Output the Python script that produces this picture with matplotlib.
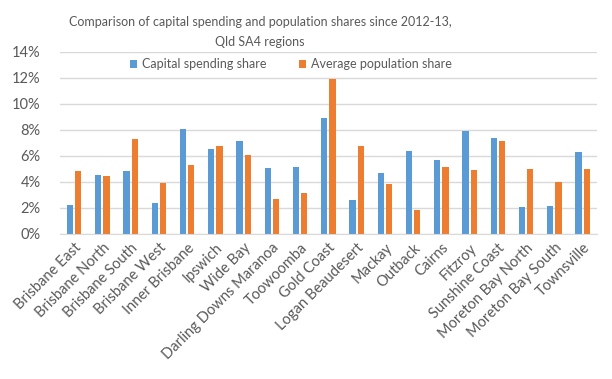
import numpy as np
import matplotlib
matplotlib.use("Agg")
import matplotlib.pyplot as plt
from matplotlib.ticker import FuncFormatter, MultipleLocator

# ── data (shares, %) ───────────────────────────────────────────────────────────
regions = [
    "Brisbane East", "Brisbane North", "Brisbane South", "Brisbane West",
    "Inner Brisbane", "Ipswich", "Wide Bay", "Darling Downs Maranoa",
    "Toowoomba", "Gold Coast", "Logan Beaudesert", "Mackay", "Outback",
    "Cairns", "Fitzroy", "Sunshine Coast", "Moreton Bay North",
    "Moreton Bay South", "Townsville",
]
capital_share = [2.2, 4.5, 4.8, 2.35, 8.05, 6.5, 7.1, 5.05, 5.1, 8.9,
                 2.6, 4.65, 6.35, 5.65, 7.9, 7.35, 2.05, 2.1, 6.3]
population_share = [4.8, 4.45, 7.3, 3.9, 5.3, 6.75, 6.05, 2.65, 3.1, 11.9,
                    6.75, 3.85, 1.85, 5.15, 4.9, 7.15, 5.0, 4.0, 5.0]

COLOR_CAPITAL = "#5B9BD5"
COLOR_POP     = "#ED7D31"
TEXT_COLOR    = "#595959"
GRID_COLOR    = "#D9D9D9"

plt.rcParams["font.family"] = ["Lato", "DejaVu Sans"]

fig = plt.figure(figsize=(6.12, 3.79), dpi=100)
ax = fig.add_axes([0.098, 0.383, 0.877, 0.481])

x = np.arange(len(regions))
w = 0.22
ax.bar(x - 0.145, capital_share, width=w, color=COLOR_CAPITAL,
       label="Capital spending share", zorder=2)
ax.bar(x + 0.145, population_share, width=w, color=COLOR_POP,
       label="Average population share", zorder=2)

ax.set_xlim(-0.5, len(regions) - 0.5)
ax.set_ylim(0, 14)
ax.yaxis.set_major_locator(MultipleLocator(2))
ax.yaxis.set_major_formatter(FuncFormatter(lambda v, _: f"{v:.0f}%"))
ax.grid(axis="y", color=GRID_COLOR, linewidth=1, zorder=0)

for side in ["top", "right", "left"]:
    ax.spines[side].set_visible(False)
ax.spines["bottom"].set_color(GRID_COLOR)

ax.set_xticks(x)
ax.set_xticklabels(regions, rotation=45, ha="right", rotation_mode="anchor",
                   fontsize=10.5, color=TEXT_COLOR)
ax.tick_params(axis="x", length=0, pad=5)
ax.tick_params(axis="y", length=0, labelsize=10.5, labelcolor=TEXT_COLOR, pad=14)

fig.text(0.425, 0.915,
         "Comparison of capital spending and population shares since 2012-13,\nQld SA4 regions",
         ha="center", va="center", fontsize=9, color=TEXT_COLOR, linespacing=1.8)

ax.legend(loc="center", bbox_to_anchor=(0.43, 0.93), ncol=2, frameon=False,
          fontsize=9, labelcolor=TEXT_COLOR, handlelength=0.6, handleheight=0.6,
          handletextpad=0.35, columnspacing=2.6)

fig.savefig("out.png", dpi=100)
